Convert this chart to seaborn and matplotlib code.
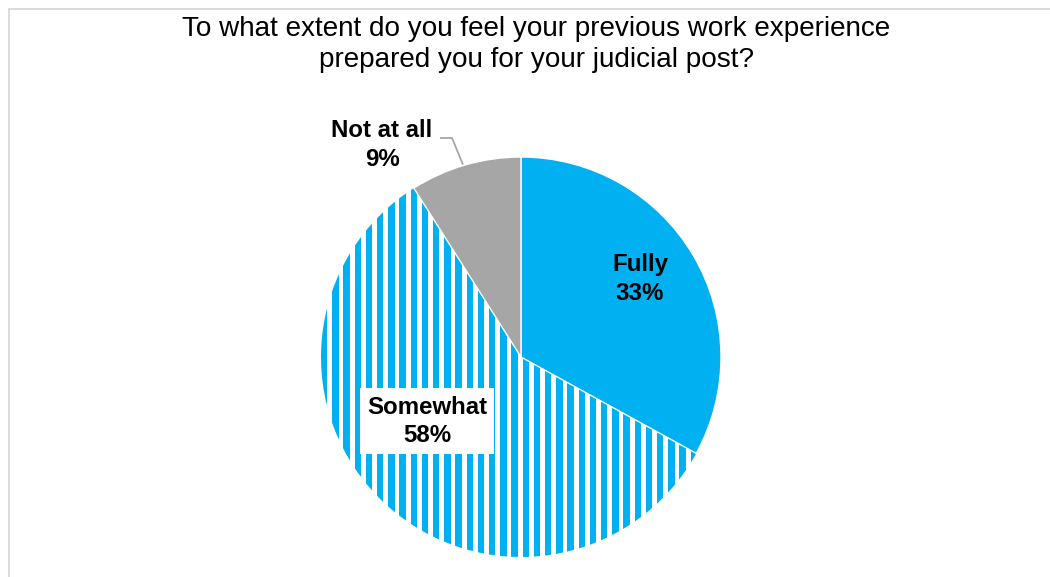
import numpy as np
import matplotlib
matplotlib.use("Agg")
import matplotlib.pyplot as plt
from matplotlib.lines import Line2D
import seaborn as sns

# Survey responses
categories = ["Fully", "Somewhat", "Not at all"]
shares = [33, 58, 9]
title = "To what extent do you feel your previous work experience\nprepared you for your judicial post?"

sns.set_theme(style="white")
plt.rcParams["font.family"] = ["Liberation Sans", "DejaVu Sans"]

BLUE = "#00B0F0"
GREY = "#A6A6A6"

W, H, DPI = 1050, 577, 100
fig = plt.figure(figsize=(W / DPI, H / DPI), dpi=DPI)
fig.patch.set_facecolor("white")

# Axes spanning the figure; one data unit = pie radius (200 px)
cx, cy, R = 521, 357, 200
ax = fig.add_axes([0, 0, 1, 1])
ax.set_axis_off()

wedges, _ = ax.pie(
    shares,
    colors=[BLUE, "white", GREY],
    startangle=90,
    counterclock=False,
    radius=1,
    center=(0, 0),
    wedgeprops=dict(edgecolor="white", linewidth=1),
)
ax.set_xlim(-cx / R, (W - cx) / R)
ax.set_ylim(-(H - cy) / R, cy / R)
ax.set_aspect("equal")

# Vertical stripe pattern for the "Somewhat" slice
stripe_period = 11.2 / R
stripe_width = 6.3 / R
xs = np.arange(-1.0, 1.0, stripe_period)
bars = ax.bar(xs, 2.2, bottom=-1.1, width=stripe_width, color=BLUE,
              align="edge", linewidth=0, zorder=1.5)
for b in bars:
    b.set_clip_path(wedges[1])
wedges[0].set_zorder(2)
wedges[2].set_zorder(2)

lab_kw = dict(ha="center", va="center", fontsize=17.3, fontweight="bold",
              color="black", linespacing=1.32, zorder=5)

# Data labels
ax.text(0.595, 0.39, f"{categories[0]}\n{shares[0]}%", **lab_kw)
ax.text(-0.47, -0.322, f"{categories[1]}\n{shares[1]}%",
        bbox=dict(boxstyle="square,pad=0.3", facecolor="white", edgecolor="none"),
        **lab_kw)
ax.text(-0.695, 1.06, f"{categories[2]}\n{shares[2]}%", **lab_kw)

# Leader line for the small slice
ax.plot([-0.405, -0.345, -0.29], [1.095, 1.095, 0.962], color=GREY,
        linewidth=1.3, zorder=4, solid_capstyle="butt")

# Title
fig.text(536.5 / W, 1 - 44.5 / H, title, ha="center", va="center",
         fontsize=20.1, color="black", linespacing=1.27)

# Chart-area frame (left and top edges)
fx, fy = 8.5 / W, 1 - 8.5 / H
fig.add_artist(Line2D([fx, fx], [0, fy], color="#D9D9D9", linewidth=1.3,
                      transform=fig.transFigure))
fig.add_artist(Line2D([fx, 1], [fy, fy], color="#D9D9D9", linewidth=1.3,
                      transform=fig.transFigure))

fig.savefig("out.png", dpi=DPI, facecolor="white")
